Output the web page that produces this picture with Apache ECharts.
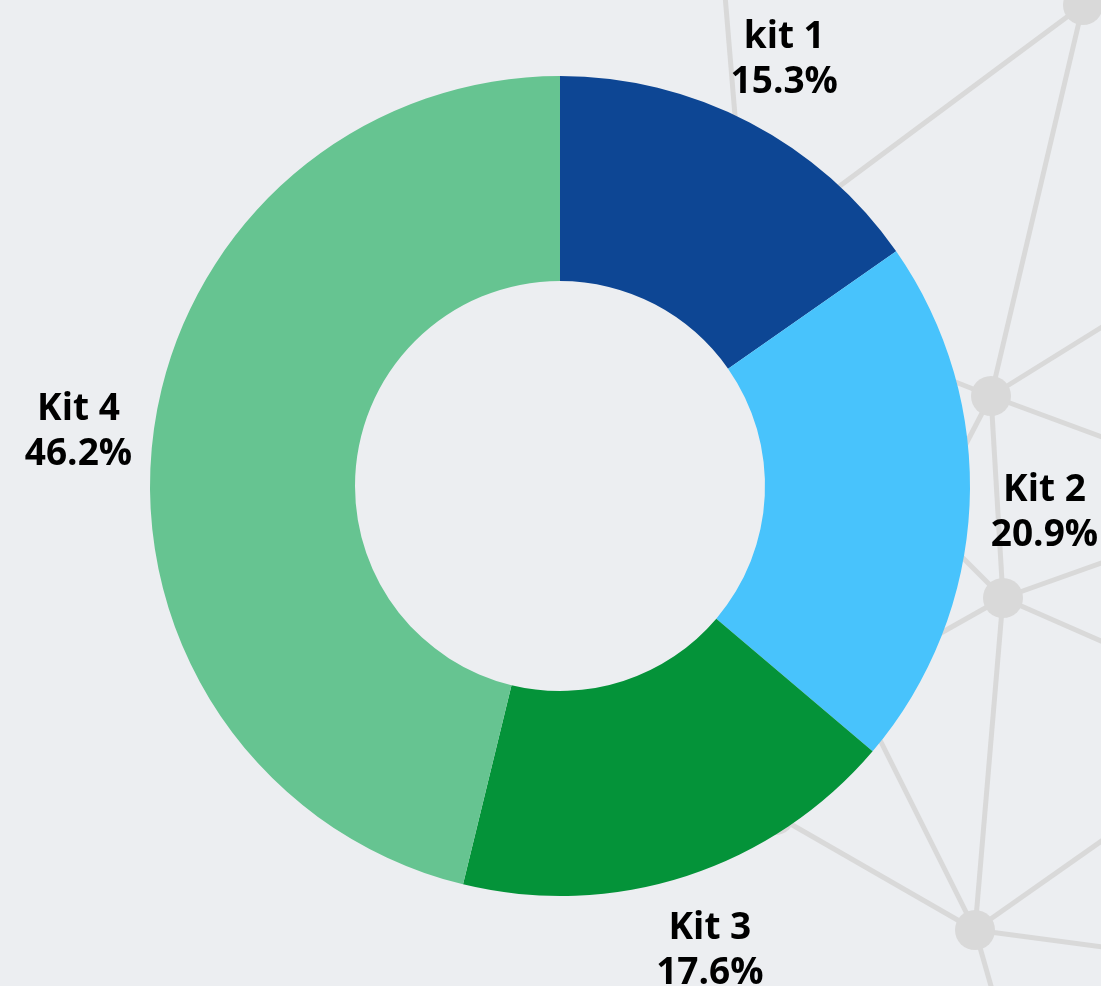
<!DOCTYPE html>
<html>
<head>
<meta charset="utf-8">
<script src="https://cdn.jsdelivr.net/npm/echarts@6/dist/echarts.min.js"></script>
<style>
  html, body { margin: 0; padding: 0; background: #ECEEF1; }
  #chart { width: 1101px; height: 986px; }
</style>
</head>
<body>
<div id="chart"></div>
<script>
// chart data
const kits = ['kit 1', 'Kit 2', 'Kit 3', 'Kit 4'];
const shares = [15.3, 20.9, 17.6, 46.2];
const palette = ['#0D4694', '#48C3FC', '#049339', '#66C491'];

// decorative network in the background
const nodes = [[1083, 5], [991, 396], [1003, 598], [975, 930], [775, 815]];
const links = [
  [[725, -5], [742, 200]],
  [[1083, 5], [700, 290]],
  [[1083, 5], [991, 396]],
  [[991, 396], [1110, 322]], [[991, 396], [1110, 440]],
  [[991, 396], [930, 372]], [[991, 396], [955, 465]],
  [[991, 396], [1003, 598]],
  [[1003, 598], [930, 525]], [[1003, 598], [1110, 560]],
  [[1003, 598], [1110, 645]], [[1003, 598], [925, 642]],
  [[1003, 598], [975, 930]],
  [[975, 930], [775, 815]], [[975, 930], [860, 700]],
  [[975, 930], [1110, 835]], [[975, 930], [1110, 948]],
  [[975, 930], [995, 1000]]
];

const graphics = [];
links.forEach(function (l) {
  graphics.push({
    type: 'line', z: 0, silent: true,
    shape: { x1: l[0][0], y1: l[0][1], x2: l[1][0], y2: l[1][1] },
    style: { stroke: '#D9D9D9', lineWidth: 5 }
  });
});
nodes.forEach(function (n) {
  graphics.push({
    type: 'circle', z: 0, silent: true,
    shape: { cx: n[0], cy: n[1], r: 20 },
    style: { fill: '#D9D9D9' }
  });
});

const pieData = kits.map(function (k, i) {
  return { name: k, value: shares[i] };
});

let chart = echarts.init(document.getElementById('chart'));
const option = {
  backgroundColor: '#ECEEF1',
  animation: false,
  color: palette,
  graphic: graphics,
  series: [
    {
      type: 'pie',
      z: 2,
      center: [560, 486],
      radius: [205, 410],
      startAngle: 90,
      silent: true,
      label: { show: false },
      labelLine: { show: false },
      data: pieData
    },
    {
      // transparent ring only used to place the labels
      type: 'pie',
      z: 3,
      center: [560, 486],
      radius: [440, 524],
      startAngle: 90,
      silent: true,
      itemStyle: { color: 'transparent' },
      label: {
        show: true,
        position: 'inside',
        formatter: '{b}\n{c}%',
        offset: [0, 4],
        color: '#000',
        fontFamily: 'Open Sans',
        fontWeight: 'bold',
        fontSize: 37,
        lineHeight: 45,
        textBorderWidth: 0
      },
      labelLine: { show: false },
      data: pieData
    }
  ]
};
chart.setOption(option);
</script>
</body>
</html>
